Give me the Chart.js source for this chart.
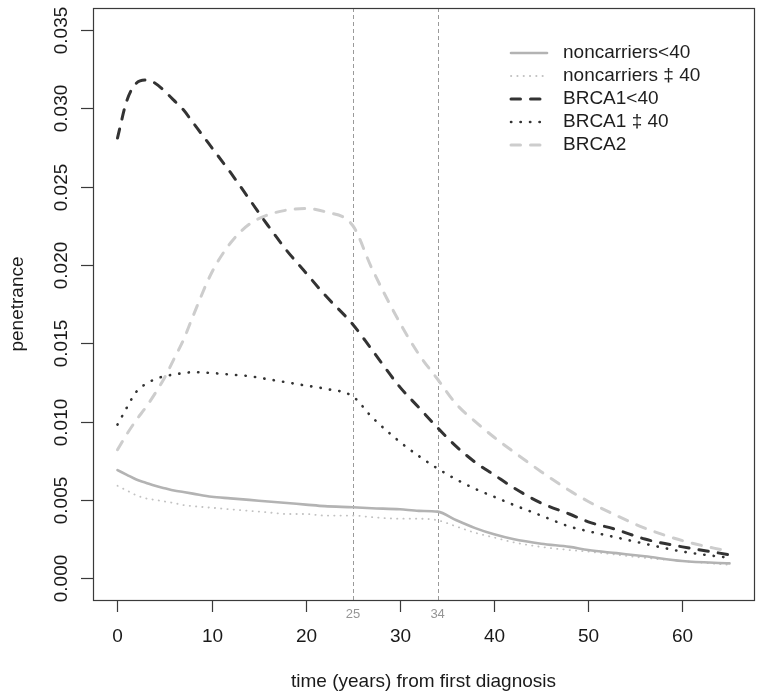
<!DOCTYPE html>
<html>
<head>
<meta charset="utf-8">
<title>penetrance</title>
<script src="https://cdn.jsdelivr.net/npm/chart.js@4/dist/chart.umd.min.js"></script>
<style>
    html, body { margin: 0; padding: 0; background: #fff; }
    #wrap { width: 762px; height: 699px; }
</style>
</head>
<body>
<div id="wrap"><canvas id="penetranceChart" width="762" height="699"></canvas></div>
<script>

// years since first diagnosis
const years = [0, 1, 2, 3, 4, 5, 6, 7, 8, 10, 12, 14, 16, 18, 20, 22, 25, 27, 30, 32, 34, 36, 38, 40, 42, 45, 48, 50, 53, 56, 60, 65]

const nonYoung = [0.0069, 0.0066, 0.0063, 0.0061, 0.0059, 0.00575, 0.0056, 0.0055, 0.0054, 0.0052, 0.0051, 0.0050, 0.0049, 0.0048, 0.0047, 0.0046,
    0.00453, 0.00447, 0.0044, 0.0043, 0.00425, 0.0037, 0.0032, 0.0028, 0.0025, 0.0022, 0.0020, 0.0018, 0.0016, 0.0014, 0.0011, 0.00095]
const nonOld = [0.0059, 0.0056, 0.0053, 0.0051, 0.0050, 0.0049, 0.0048, 0.00467, 0.0046, 0.0045, 0.0044, 0.0043, 0.0042, 0.0041, 0.0041, 0.0040,
    0.0040, 0.0039, 0.0038, 0.0038, 0.0037, 0.0033, 0.0029, 0.0026, 0.0023, 0.0020, 0.0018, 0.0017, 0.0015, 0.0013, 0.0011, 0.00085]
const brca1Young = [0.0281, 0.0305, 0.0316, 0.0318, 0.0316, 0.0311, 0.0305, 0.0299, 0.0291, 0.0275, 0.0259, 0.0242, 0.0225, 0.0209, 0.0195, 0.0181,
    0.0162, 0.0146, 0.0122, 0.0109, 0.0096, 0.0084, 0.0074, 0.0066, 0.0058, 0.0048, 0.0041, 0.0036, 0.0031, 0.0025, 0.0020, 0.0015]
const brca1Old = [0.0098, 0.0109, 0.0119, 0.0124, 0.0127, 0.0129, 0.0130, 0.0131, 0.01315, 0.0131, 0.0130, 0.0129, 0.0127, 0.0125, 0.0123, 0.0121,
    0.0116, 0.0103, 0.0087, 0.0078, 0.0070, 0.0063, 0.0057, 0.0052, 0.0047, 0.0040, 0.0033, 0.0030, 0.0026, 0.0022, 0.0017, 0.0013]
const brca2 = [0.0082, 0.0092, 0.0101, 0.0109, 0.0118, 0.0128, 0.0140, 0.0152, 0.0167, 0.0195, 0.0214, 0.0226, 0.0232, 0.0235, 0.0236, 0.0234,
    0.0225, 0.0198, 0.0163, 0.0143, 0.0127, 0.0111, 0.0100, 0.0090, 0.0081, 0.0068, 0.0056, 0.0049, 0.0040, 0.0032, 0.0024, 0.0017]

const seriesLabels = ["noncarriers<40", "noncarriers \u2021 40", "BRCA1<40", "BRCA1 \u2021 40", "BRCA2"]

// axis ticks and marked years
const xTicks = [0, 10, 20, 30, 40, 50, 60]
const yTicks = [0.000, 0.005, 0.010, 0.015, 0.020, 0.025, 0.030, 0.035]
const markYears = [25, 34]

const FONT = "Liberation Sans, Arial, Helvetica, sans-serif"

const toPoints = values => years.map((x, i) => ({x: x, y: values[i]}))

const lineSet = (label, values, color, width, dash) => ({
    label: label,
    data: toPoints(values),
    borderColor: color,
    borderWidth: width,
    borderDash: dash,
    borderCapStyle: "round",
    borderJoinStyle: "round",
    pointRadius: 0,
    cubicInterpolationMode: "monotone",
    fill: false
})

/**
 * R style frame, ticks, titles, legend and the two marker lines
 */
const rStyle = {
    id: "rStyle",
    beforeDatasetsDraw: chart => {
        const {ctx, chartArea, scales} = chart
        ctx.save()
        ctx.strokeStyle = "#9a9a9a"
        ctx.lineWidth = 1
        ctx.setLineDash([4, 3])
        markYears.forEach(yr => {
            const px = Math.round(scales.x.getPixelForValue(yr)) + 0.5
            ctx.beginPath()
            ctx.moveTo(px, chartArea.top)
            ctx.lineTo(px, chartArea.bottom)
            ctx.stroke()
        })
        ctx.restore()
    },
    afterDraw: chart => {
        const {ctx, chartArea, scales} = chart
        const {left, right, top, bottom} = chartArea
        ctx.save()

        // box
        ctx.strokeStyle = "#3a3a3a"
        ctx.lineWidth = 1.2
        ctx.strokeRect(left + 0.5, top + 0.5, right - left, bottom - top)

        ctx.fillStyle = "#1a1a1a"
        ctx.font = "19px " + FONT

        // x axis
        ctx.textAlign = "center"
        ctx.textBaseline = "middle"
        xTicks.forEach(t => {
            const px = Math.round(scales.x.getPixelForValue(t)) + 0.5
            ctx.beginPath()
            ctx.moveTo(px, bottom)
            ctx.lineTo(px, bottom + 12)
            ctx.stroke()
            ctx.fillText(String(t), px, bottom + 37)
        })

        // y axis, labels turned like R
        yTicks.forEach(t => {
            const py = Math.round(scales.y.getPixelForValue(t)) + 0.5
            ctx.beginPath()
            ctx.moveTo(left, py)
            ctx.lineTo(left - 12, py)
            ctx.stroke()
            ctx.save()
            ctx.translate(62, py)
            ctx.rotate(-Math.PI / 2)
            ctx.fillText(t.toFixed(3), 0, 0)
            ctx.restore()
        })

        // titles
        ctx.fillText("time (years) from first diagnosis", (left + right) / 2, 682)
        ctx.save()
        ctx.translate(18, (top + bottom) / 2)
        ctx.rotate(-Math.PI / 2)
        ctx.fillText("penetrance", 0, 0)
        ctx.restore()

        // marked years
        ctx.fillStyle = "#959595"
        ctx.font = "13px " + FONT
        markYears.forEach(yr => {
            ctx.fillText(String(yr), scales.x.getPixelForValue(yr), bottom + 14)
        })

        // legend
        ctx.font = "19px " + FONT
        ctx.textAlign = "left"
        chart.data.datasets.forEach((ds, i) => {
            const y = 53 + i * 23
            ctx.save()
            ctx.strokeStyle = ds.borderColor
            ctx.lineWidth = ds.borderWidth
            ctx.lineCap = "round"
            ctx.setLineDash(ds.borderDash)
            ctx.beginPath()
            ctx.moveTo(511, y)
            ctx.lineTo(547, y)
            ctx.stroke()
            ctx.restore()
            ctx.fillStyle = "#1e1e1e"
            ctx.fillText(ds.label, 563, y)
        })

        ctx.restore()
    }
}

const ctx = document.getElementById("penetranceChart")

new Chart(ctx, {
    type: "line",
    data: {
        datasets: [
            lineSet(seriesLabels[0], nonYoung, "#b3b3b3", 2.6, []),
            lineSet(seriesLabels[1], nonOld, "#c2c2c2", 1.8, [0.3, 6]),
            lineSet(seriesLabels[2], brca1Young, "#333333", 3, [9.5, 10]),
            lineSet(seriesLabels[3], brca1Old, "#333333", 2.6, [0.3, 9.2]),
            lineSet(seriesLabels[4], brca2, "#cdcdcd", 3, [9.5, 10])
        ]
    },
    options: {
        responsive: false,
        animation: false,
        devicePixelRatio: 1,
        events: [],
        layout: {
            padding: {left: 93, right: 8, top: 8, bottom: 99}
        },
        scales: {
            x: {type: "linear", min: -2.6, max: 67.6, display: false},
            y: {type: "linear", min: -0.00139, max: 0.0364, display: false}
        },
        plugins: {
            legend: {display: false},
            tooltip: {enabled: false}
        }
    },
    plugins: [rStyle]
})
</script>
</body>
</html>
